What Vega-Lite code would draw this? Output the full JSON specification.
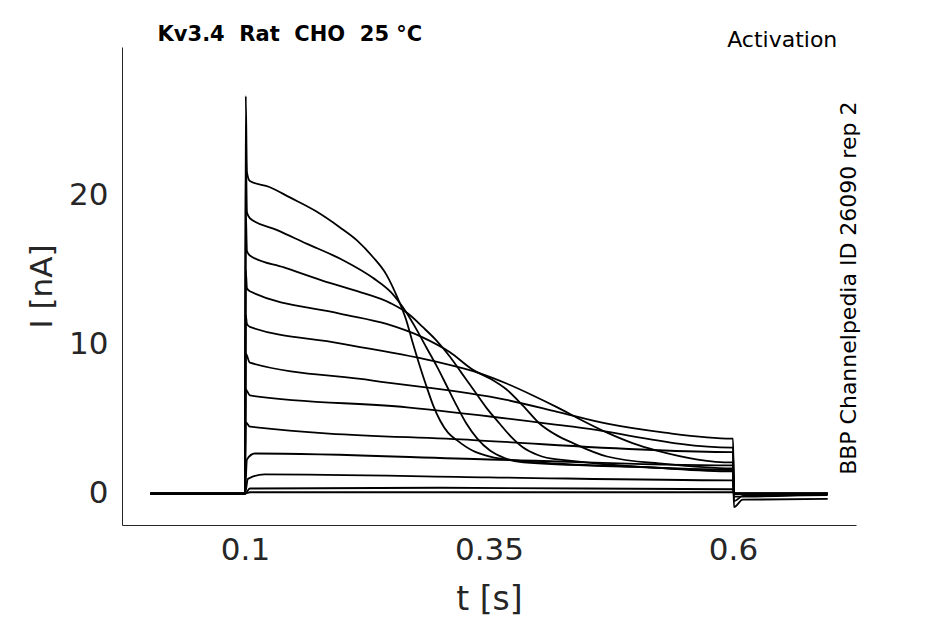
{
"$schema":"https://vega.github.io/schema/vega-lite/v6.json",
"width":734,"height":478,
"autosize":{"type":"none"},
"padding":{"left":122,"top":47,"right":89,"bottom":99},
"background":"white",
"config":{"view":{"stroke":null},"font":"DejaVu Sans"},
"title":{"text":"Kv3.4\u00a0\u00a0Rat\u00a0\u00a0CHO\u00a0\u00a025\u00a0°C","anchor":"start","offset":-4,"dy":12,"dx":131,"fontSize":21,"fontWeight":"bold","color":"black","font":"DejaVu Sans"},
"datasets":{"tr":[
{"k":1,"t":0.003,"I":0},{"k":1,"t":0.1,"I":0},{"k":1,"t":0.1008,"I":26.7},{"k":1,"t":0.102,"I":21.6},{"k":1,"t":0.105,"I":21.0},{"k":1,"t":0.125,"I":20.6},{"k":1,"t":0.146,"I":19.9},{"k":1,"t":0.172,"I":19.0},{"k":1,"t":0.197,"I":17.9},{"k":1,"t":0.215,"I":17.0},{"k":1,"t":0.231,"I":15.9},{"k":1,"t":0.245,"I":14.7},{"k":1,"t":0.256,"I":13.2},{"k":1,"t":0.265,"I":11.7},{"k":1,"t":0.272,"I":10.1},{"k":1,"t":0.279,"I":8.6},{"k":1,"t":0.286,"I":7.2},{"k":1,"t":0.293,"I":5.9},{"k":1,"t":0.3,"I":4.9},{"k":1,"t":0.308,"I":4.1},{"k":1,"t":0.317,"I":3.6},{"k":1,"t":0.333,"I":2.9},{"k":1,"t":0.351,"I":2.5},{"k":1,"t":0.402,"I":2.1},{"k":1,"t":0.505,"I":1.8},{"k":1,"t":0.599,"I":1.5},{"k":1,"t":0.6,"I":1.5},{"k":1,"t":0.601,"I":-0.9},{"k":1,"t":0.61,"I":-0.4},{"k":1,"t":0.697,"I":-0.35},
{"k":2,"t":0.003,"I":0},{"k":2,"t":0.1,"I":0},{"k":2,"t":0.1008,"I":23.5},{"k":2,"t":0.102,"I":18.9},{"k":2,"t":0.105,"I":18.5},{"k":2,"t":0.133,"I":17.7},{"k":2,"t":0.163,"I":16.8},{"k":2,"t":0.2,"I":15.7},{"k":2,"t":0.231,"I":14.5},{"k":2,"t":0.25,"I":13.5},{"k":2,"t":0.266,"I":12.1},{"k":2,"t":0.276,"I":11.0},{"k":2,"t":0.286,"I":9.8},{"k":2,"t":0.297,"I":8.5},{"k":2,"t":0.307,"I":7.2},{"k":2,"t":0.317,"I":5.9},{"k":2,"t":0.327,"I":4.7},{"k":2,"t":0.338,"I":3.7},{"k":2,"t":0.351,"I":2.9},{"k":2,"t":0.366,"I":2.4},{"k":2,"t":0.385,"I":2.1},{"k":2,"t":0.5,"I":1.8},{"k":2,"t":0.599,"I":1.6},{"k":2,"t":0.6,"I":1.6},{"k":2,"t":0.601,"I":-0.5},{"k":2,"t":0.61,"I":-0.15},{"k":2,"t":0.697,"I":-0.1},
{"k":3,"t":0.003,"I":0},{"k":3,"t":0.1,"I":0},{"k":3,"t":0.1008,"I":19},{"k":3,"t":0.102,"I":16.3},{"k":3,"t":0.105,"I":16.0},{"k":3,"t":0.14,"I":15.2},{"k":3,"t":0.18,"I":14.3},{"k":3,"t":0.215,"I":13.6},{"k":3,"t":0.249,"I":12.8},{"k":3,"t":0.267,"I":12.1},{"k":3,"t":0.282,"I":11.2},{"k":3,"t":0.296,"I":10.3},{"k":3,"t":0.31,"I":9.2},{"k":3,"t":0.322,"I":8.1},{"k":3,"t":0.334,"I":7.0},{"k":3,"t":0.347,"I":5.8},{"k":3,"t":0.361,"I":4.7},{"k":3,"t":0.373,"I":3.8},{"k":3,"t":0.385,"I":3.1},{"k":3,"t":0.4,"I":2.6},{"k":3,"t":0.42,"I":2.3},{"k":3,"t":0.599,"I":1.6},{"k":3,"t":0.6,"I":1.6},{"k":3,"t":0.601,"I":-0.2},{"k":3,"t":0.697,"I":0},
{"k":4,"t":0.003,"I":0},{"k":4,"t":0.1,"I":0},{"k":4,"t":0.1008,"I":15},{"k":4,"t":0.102,"I":13.8},{"k":4,"t":0.105,"I":13.6},{"k":4,"t":0.197,"I":12.1},{"k":4,"t":0.245,"I":11.4},{"k":4,"t":0.282,"I":10.5},{"k":4,"t":0.31,"I":9.5},{"k":4,"t":0.334,"I":8.3},{"k":4,"t":0.352,"I":7.7},{"k":4,"t":0.368,"I":7.0},{"k":4,"t":0.385,"I":5.9},{"k":4,"t":0.402,"I":4.7},{"k":4,"t":0.42,"I":3.9},{"k":4,"t":0.436,"I":3.4},{"k":4,"t":0.471,"I":2.5},{"k":4,"t":0.53,"I":2.0},{"k":4,"t":0.599,"I":1.7},{"k":4,"t":0.6,"I":1.7},{"k":4,"t":0.601,"I":0},{"k":4,"t":0.697,"I":0},
{"k":5,"t":0.003,"I":0},{"k":5,"t":0.1,"I":0},{"k":5,"t":0.1008,"I":12},{"k":5,"t":0.102,"I":11.4},{"k":5,"t":0.105,"I":11.2},{"k":5,"t":0.197,"I":10.1},{"k":5,"t":0.3,"I":8.8},{"k":5,"t":0.34,"I":8.1},{"k":5,"t":0.368,"I":7.4},{"k":5,"t":0.395,"I":6.6},{"k":5,"t":0.42,"I":5.8},{"k":5,"t":0.446,"I":4.9},{"k":5,"t":0.471,"I":4.1},{"k":5,"t":0.497,"I":3.4},{"k":5,"t":0.522,"I":2.9},{"k":5,"t":0.599,"I":2.1},{"k":5,"t":0.6,"I":2.1},{"k":5,"t":0.601,"I":0},{"k":5,"t":0.697,"I":0},
{"k":6,"t":0.003,"I":0},{"k":6,"t":0.1,"I":0},{"k":6,"t":0.1008,"I":9.4},{"k":6,"t":0.105,"I":8.8},{"k":6,"t":0.231,"I":7.6},{"k":6,"t":0.368,"I":6.3},{"k":6,"t":0.42,"I":5.5},{"k":6,"t":0.471,"I":4.7},{"k":6,"t":0.53,"I":4.1},{"k":6,"t":0.599,"I":3.7},{"k":6,"t":0.6,"I":3.7},{"k":6,"t":0.601,"I":0},{"k":6,"t":0.697,"I":0},
{"k":7,"t":0.003,"I":0},{"k":7,"t":0.1,"I":0},{"k":7,"t":0.1008,"I":7},{"k":7,"t":0.105,"I":6.6},{"k":7,"t":0.266,"I":5.8},{"k":7,"t":0.436,"I":4.5},{"k":7,"t":0.599,"I":3.1},{"k":7,"t":0.6,"I":3.1},{"k":7,"t":0.601,"I":0},{"k":7,"t":0.697,"I":0},
{"k":8,"t":0.003,"I":0},{"k":8,"t":0.1,"I":0},{"k":8,"t":0.1008,"I":4.8},{"k":8,"t":0.105,"I":4.5},{"k":8,"t":0.334,"I":3.6},{"k":8,"t":0.599,"I":2.8},{"k":8,"t":0.6,"I":2.8},{"k":8,"t":0.601,"I":0},{"k":8,"t":0.697,"I":0},
{"k":9,"t":0.003,"I":0},{"k":9,"t":0.1,"I":0},{"k":9,"t":0.102,"I":2.3},{"k":9,"t":0.11,"I":2.7},{"k":9,"t":0.35,"I":2.3},{"k":9,"t":0.599,"I":1.9},{"k":9,"t":0.6,"I":1.9},{"k":9,"t":0.601,"I":0},{"k":9,"t":0.697,"I":0},
{"k":10,"t":0.003,"I":0},{"k":10,"t":0.1,"I":0},{"k":10,"t":0.103,"I":1.0},{"k":10,"t":0.12,"I":1.3},{"k":10,"t":0.35,"I":1.1},{"k":10,"t":0.599,"I":0.9},{"k":10,"t":0.6,"I":0.9},{"k":10,"t":0.601,"I":0},{"k":10,"t":0.697,"I":0},
{"k":11,"t":0.003,"I":0},{"k":11,"t":0.1,"I":0},{"k":11,"t":0.105,"I":0.35},{"k":11,"t":0.3,"I":0.4},{"k":11,"t":0.599,"I":0.3},{"k":11,"t":0.6,"I":0.3},{"k":11,"t":0.601,"I":0},{"k":11,"t":0.697,"I":0},
{"k":12,"t":0.003,"I":0},{"k":12,"t":0.1,"I":0},{"k":12,"t":0.105,"I":0.1},{"k":12,"t":0.599,"I":0.1},{"k":12,"t":0.6,"I":0.1},{"k":12,"t":0.601,"I":0},{"k":12,"t":0.697,"I":0}
],
"lbl":[{"t":0.594,"I":30.5,"s":"Activation","a":0},{"t":0.719,"I":13.8,"s":"BBP Channelpedia ID 26090 rep 2","a":270}]},
"layer":[
{"data":{"name":"tr"},"mark":{"type":"line","color":"black","strokeWidth":1.8,"clip":true,"interpolate":"monotone"},
"encoding":{
"x":{"field":"t","type":"quantitative","scale":{"domain":[-0.026,0.726],"nice":false,"zero":false},
"axis":{"values":[0.1,0.35,0.6],"format":"~g","title":"t [s]","grid":false,"ticks":false,"labelFontSize":31,"titleFontSize":33,"titleFontWeight":"normal","labelColor":"#262626","titleColor":"#262626","domainColor":"#262626","labelPadding":10,"titlePadding":18,"labelFont":"DejaVu Sans","titleFont":"DejaVu Sans"}},
"y":{"field":"I","type":"quantitative","scale":{"domain":[-2.1,30],"nice":false,"zero":false},
"axis":{"values":[0,10,20],"title":"I [nA]","grid":false,"ticks":false,"labelFontSize":31,"titleFontSize":31,"titleFontWeight":"normal","labelColor":"#262626","titleColor":"#262626","domainColor":"#262626","labelPadding":14,"titlePadding":10,"labelFont":"DejaVu Sans","titleFont":"DejaVu Sans"}},
"detail":{"field":"k"},"order":{"field":"t"}}},
{"data":{"name":"lbl"},"mark":{"type":"text","fontSize":22,"color":"black","font":"DejaVu Sans","align":"left","baseline":"middle","dx":0},
"transform":[{"filter":"datum.a==0"}],
"encoding":{"x":{"field":"t","type":"quantitative"},"y":{"field":"I","type":"quantitative"},"text":{"field":"s"}}},
{"data":{"name":"lbl"},"mark":{"type":"text","fontSize":22,"color":"black","font":"DejaVu Sans","angle":270,"align":"center","baseline":"middle"},
"transform":[{"filter":"datum.a==270"}],
"encoding":{"x":{"field":"t","type":"quantitative"},"y":{"field":"I","type":"quantitative"},"text":{"field":"s"}}}
]}
